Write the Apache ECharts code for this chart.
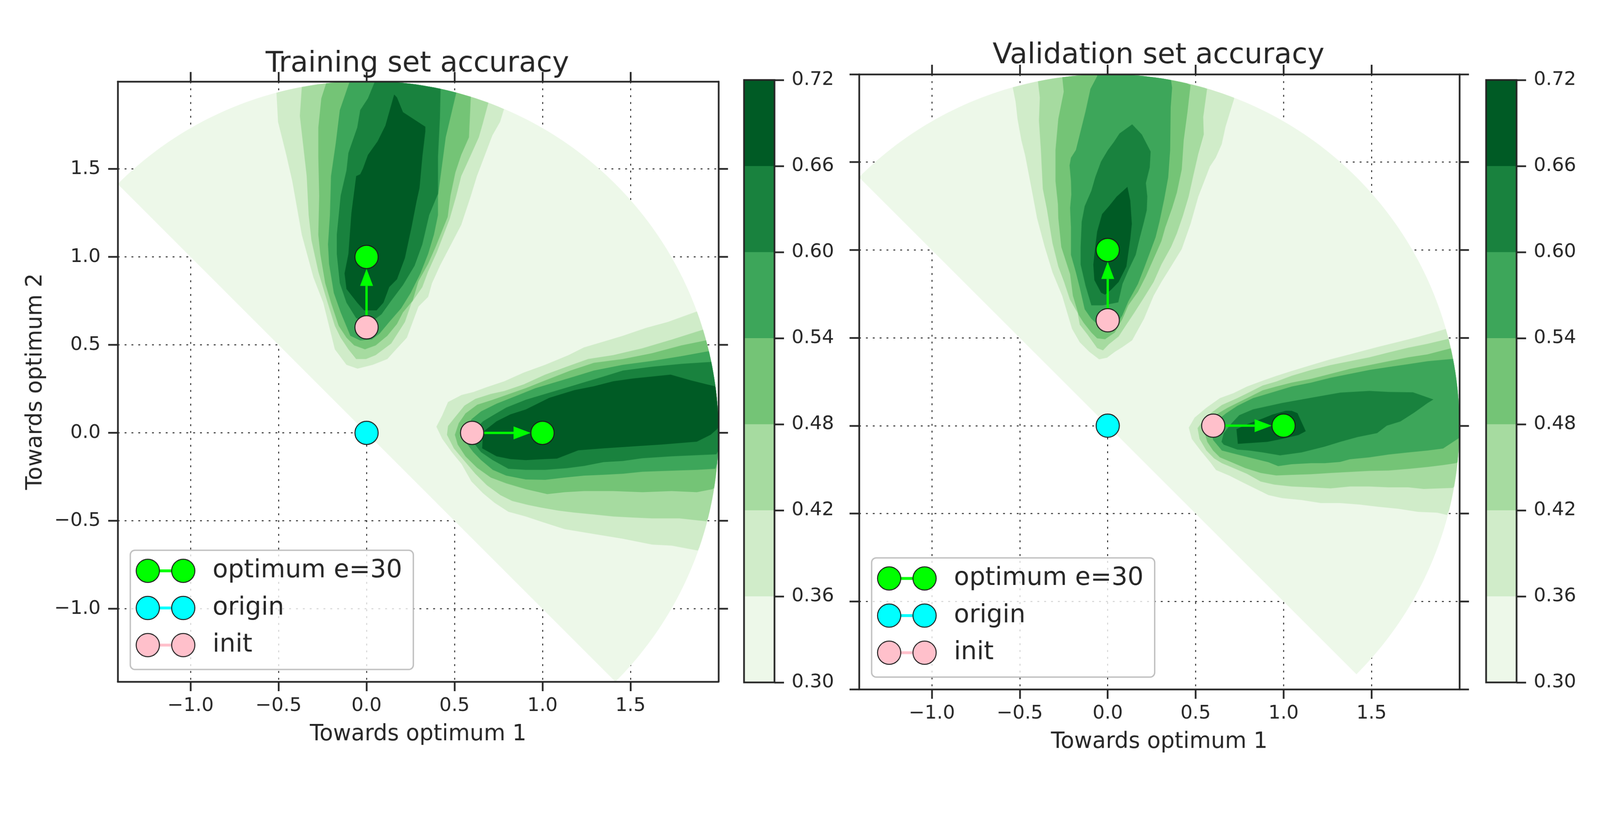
<!DOCTYPE html>
<html><head><meta charset="utf-8">
<script src="https://cdn.jsdelivr.net/npm/echarts@6.0.0/dist/echarts.min.js"></script>
<style>html,body{margin:0;padding:0;background:#fff;overflow:hidden}#chart{width:4200px;height:2100px;transform-origin:0 0}</style>
</head><body><div id="chart"></div>
<script>
// ---------------- data ----------------
const LEVELS = [0.30, 0.36, 0.42, 0.48, 0.54, 0.60, 0.66, 0.72];
const BAND_COLORS = ['#edf8e9', '#d0ecc9', '#a6dba0', '#74c476', '#3da65a', '#19823e', '#005b25'];
const X_TICKS = [-1.0, -0.5, 0.0, 0.5, 1.0, 1.5];
const Y_TICKS_TRAIN = [-1.0, -0.5, 0.0, 0.5, 1.0, 1.5];
const Y_TICKS_VAL = [-1.5, -1.0, -0.5, 0.0, 0.5, 1.0, 1.5, 2.0];
const CBAR_TICKS = [0.30, 0.36, 0.42, 0.48, 0.54, 0.60, 0.66, 0.72];
const TITLES = ['Training set accuracy', 'Validation set accuracy'];
const X_NAME = 'Towards optimum 1';
const Y_NAME = 'Towards optimum 2';
const SECTOR_RADIUS = 2.0;
const SECTOR_FROM_DEG = -45;
const SECTOR_TO_DEG = 135;

const SERIES_NAMES = ['optimum e=30', 'origin', 'init'];
const PT_OPTIMUM = [[0, 1], [1, 0]];
const PT_ORIGIN = [[0, 0]];
const PT_INIT = [[0, 0.6], [0.6, 0]];
const ARROWS = [[0, 0.6, 0, 1], [0.6, 0, 1, 0]];

// training accuracy contours (upper lobe / right lobe), boundaries at LEVELS[1..6]
const T_UP_1 = [[-0.512,1.934],[-0.503,1.768],[-0.456,1.580],[-0.423,1.436],[-0.368,1.127],[-0.302,0.884],[-0.246,0.740],[-0.180,0.475],[-0.114,0.387],[-0.051,0.365],[0.035,0.387],[0.118,0.420],[0.168,0.475],[0.229,0.541],[0.295,0.718],[0.350,0.773],[0.372,0.851],[0.417,0.950],[0.538,1.182],[0.593,1.348],[0.627,1.459],[0.715,1.691],[0.759,1.768],[0.781,1.840]];
const T_UP_2 = [[-0.368,1.967],[-0.379,1.801],[-0.340,1.459],[-0.329,1.238],[-0.313,1.094],[-0.274,0.917],[-0.235,0.785],[-0.180,0.608],[-0.147,0.541],[-0.103,0.475],[-0.059,0.420],[-0.003,0.420],[0.052,0.442],[0.140,0.508],[0.218,0.630],[0.256,0.740],[0.317,0.829],[0.350,0.917],[0.400,1.028],[0.472,1.215],[0.510,1.348],[0.538,1.459],[0.593,1.580],[0.638,1.680],[0.660,1.757],[0.693,1.878]];
const T_UP_3 = [[-0.230,1.989],[-0.257,1.901],[-0.274,1.735],[-0.274,1.569],[-0.269,1.348],[-0.274,1.127],[-0.263,1.017],[-0.235,0.851],[-0.202,0.740],[-0.158,0.608],[-0.114,0.541],[-0.070,0.497],[-0.009,0.475],[0.052,0.497],[0.118,0.552],[0.173,0.619],[0.207,0.685],[0.262,0.751],[0.295,0.862],[0.350,0.961],[0.394,1.061],[0.461,1.227],[0.477,1.348],[0.505,1.481],[0.538,1.580],[0.582,1.680],[0.593,1.912]];
const T_UP_4 = [[-0.097,1.994],[-0.152,1.834],[-0.175,1.646],[-0.202,1.459],[-0.208,1.238],[-0.219,1.072],[-0.213,0.961],[-0.186,0.796],[-0.147,0.685],[-0.092,0.552],[-0.036,0.525],[0.030,0.530],[0.074,0.564],[0.129,0.630],[0.196,0.707],[0.251,0.796],[0.306,0.906],[0.350,1.017],[0.383,1.127],[0.406,1.238],[0.406,1.348],[0.428,1.514],[0.450,1.680],[0.510,1.934]];
const T_UP_5 = [[0.046,1.994],[0.008,1.901],[-0.036,1.834],[-0.053,1.735],[-0.103,1.591],[-0.114,1.492],[-0.147,1.348],[-0.158,1.238],[-0.169,1.127],[-0.169,1.017],[-0.152,0.851],[-0.114,0.740],[-0.059,0.652],[-0.003,0.635],[0.041,0.641],[0.085,0.674],[0.140,0.751],[0.207,0.840],[0.273,0.950],[0.317,1.072],[0.356,1.238],[0.406,1.359],[0.406,1.569],[0.417,1.790],[0.422,1.961]];
const T_UP_6 = [[0.157,1.923],[0.173,1.906],[0.207,1.823],[0.334,1.740],[0.334,1.713],[0.317,1.569],[0.301,1.392],[0.284,1.315],[0.256,1.171],[0.218,0.994],[0.173,0.873],[0.129,0.829],[0.096,0.740],[0.057,0.696],[-0.014,0.696],[-0.053,0.740],[-0.114,0.818],[-0.125,0.906],[-0.103,1.017],[-0.086,1.249],[-0.059,1.459],[-0.036,1.470],[-0.020,1.503],[0.008,1.580],[0.063,1.657],[0.107,1.746],[0.135,1.845]];
const T_RT_1 = [[1.872,0.688],[1.712,0.630],[1.590,0.597],[1.457,0.552],[1.347,0.519],[1.236,0.486],[1.148,0.442],[1.015,0.387],[0.894,0.343],[0.783,0.293],[0.684,0.260],[0.607,0.232],[0.540,0.215],[0.463,0.175],[0.430,0.099],[0.397,0.035],[0.430,-0.033],[0.485,-0.110],[0.540,-0.177],[0.596,-0.276],[0.662,-0.343],[0.728,-0.398],[0.806,-0.448],[0.905,-0.475],[1.004,-0.508],[1.126,-0.547],[1.292,-0.575],[1.457,-0.602],[1.623,-0.635],[1.734,-0.641],[1.883,-0.669]];
const T_RT_2 = [[1.910,0.586],[1.734,0.530],[1.568,0.481],[1.402,0.442],[1.259,0.420],[1.137,0.376],[1.015,0.331],[0.894,0.276],[0.783,0.238],[0.706,0.221],[0.618,0.193],[0.557,0.155],[0.502,0.088],[0.463,0.039],[0.457,-0.011],[0.496,-0.088],[0.562,-0.166],[0.618,-0.232],[0.684,-0.298],[0.761,-0.354],[0.828,-0.387],[0.916,-0.409],[0.993,-0.425],[1.093,-0.442],[1.181,-0.453],[1.292,-0.464],[1.402,-0.475],[1.513,-0.481],[1.623,-0.486],[1.778,-0.486],[1.932,-0.503]];
const T_RT_3 = [[1.927,0.525],[1.789,0.497],[1.623,0.453],[1.457,0.420],[1.292,0.398],[1.159,0.354],[1.015,0.298],[0.905,0.254],[0.794,0.215],[0.717,0.188],[0.629,0.160],[0.562,0.110],[0.524,0.055],[0.502,-0.011],[0.518,-0.066],[0.562,-0.133],[0.629,-0.199],[0.706,-0.254],[0.794,-0.287],[0.905,-0.320],[1.027,-0.348],[1.126,-0.337],[1.236,-0.331],[1.402,-0.331],[1.568,-0.337],[1.734,-0.331],[1.877,-0.337],[1.966,-0.320]];
const T_RT_4 = [[1.944,0.464],[1.789,0.436],[1.623,0.409],[1.457,0.387],[1.292,0.354],[1.181,0.320],[1.071,0.287],[0.960,0.254],[0.850,0.210],[0.739,0.166],[0.651,0.122],[0.596,0.077],[0.557,-0.011],[0.557,-0.044],[0.607,-0.110],[0.651,-0.155],[0.717,-0.210],[0.794,-0.243],[0.905,-0.265],[1.015,-0.267],[1.126,-0.254],[1.236,-0.243],[1.347,-0.238],[1.457,-0.232],[1.568,-0.221],[1.734,-0.215],[1.877,-0.210],[1.982,-0.204]];
const T_RT_5 = [[1.955,0.403],[1.789,0.392],[1.623,0.376],[1.457,0.354],[1.347,0.320],[1.236,0.287],[1.126,0.254],[1.015,0.221],[0.905,0.188],[0.794,0.144],[0.717,0.099],[0.662,0.066],[0.607,0.011],[0.607,-0.055],[0.651,-0.110],[0.717,-0.155],[0.806,-0.204],[0.905,-0.210],[1.015,-0.210],[1.137,-0.201],[1.236,-0.188],[1.347,-0.166],[1.457,-0.160],[1.568,-0.144],[1.734,-0.133],[1.877,-0.127],[1.988,-0.122]];
const T_RT_6 = [[1.988,0.265],[1.933,0.276],[1.844,0.298],[1.728,0.331],[1.623,0.320],[1.513,0.309],[1.402,0.293],[1.292,0.265],[1.181,0.243],[1.038,0.199],[0.905,0.133],[0.817,0.105],[0.739,0.066],[0.662,0.006],[0.657,-0.088],[0.739,-0.133],[0.817,-0.149],[0.905,-0.155],[1.015,-0.149],[1.082,-0.146],[1.203,-0.099],[1.347,-0.088],[1.513,-0.077],[1.679,-0.066],[1.877,-0.050],[1.955,-0.011],[1.993,0.022]];

// validation accuracy contours
const V_UP_1 = [[-0.540,1.925],[-0.524,1.845],[-0.513,1.746],[-0.491,1.624],[-0.469,1.536],[-0.435,1.359],[-0.402,1.182],[-0.358,1.017],[-0.314,0.873],[-0.259,0.740],[-0.203,0.552],[-0.159,0.475],[-0.104,0.420],[-0.049,0.378],[-0.004,0.387],[0.040,0.420],[0.084,0.448],[0.139,0.486],[0.206,0.608],[0.261,0.740],[0.305,0.818],[0.360,0.906],[0.421,1.006],[0.471,1.149],[0.515,1.304],[0.581,1.475],[0.614,1.525],[0.648,1.602],[0.670,1.702],[0.719,1.862]];
const V_UP_2 = [[-0.397,1.961],[-0.386,1.867],[-0.391,1.735],[-0.380,1.569],[-0.369,1.348],[-0.347,1.238],[-0.314,1.039],[-0.281,0.906],[-0.248,0.818],[-0.215,0.718],[-0.171,0.641],[-0.159,0.575],[-0.115,0.519],[-0.060,0.442],[-0.027,0.429],[0.007,0.464],[0.062,0.508],[0.106,0.575],[0.150,0.641],[0.206,0.729],[0.261,0.818],[0.305,0.917],[0.360,1.017],[0.393,1.094],[0.427,1.193],[0.460,1.304],[0.487,1.425],[0.515,1.547],[0.546,1.657],[0.543,1.757],[0.565,1.917]];
const V_UP_3 = [[-0.259,1.987],[-0.250,1.901],[-0.281,1.746],[-0.297,1.569],[-0.297,1.392],[-0.283,1.260],[-0.281,1.182],[-0.264,1.017],[-0.214,0.862],[-0.198,0.740],[-0.165,0.630],[-0.137,0.586],[-0.093,0.530],[-0.060,0.497],[-0.015,0.492],[0.040,0.530],[0.084,0.608],[0.117,0.685],[0.172,0.762],[0.217,0.851],[0.261,0.950],[0.305,1.050],[0.327,1.127],[0.366,1.238],[0.393,1.326],[0.421,1.459],[0.432,1.624],[0.454,1.790],[0.471,1.939]];
const V_UP_4 = [[-0.060,1.989],[-0.098,1.917],[-0.126,1.790],[-0.159,1.657],[-0.181,1.569],[-0.209,1.525],[-0.217,1.481],[-0.209,1.392],[-0.207,1.315],[-0.214,1.238],[-0.209,1.127],[-0.209,0.972],[-0.181,0.873],[-0.159,0.785],[-0.131,0.663],[-0.093,0.608],[-0.049,0.569],[0.000,0.552],[0.051,0.575],[0.084,0.630],[0.117,0.707],[0.172,0.807],[0.206,0.895],[0.239,0.983],[0.272,1.072],[0.294,1.160],[0.322,1.293],[0.344,1.414],[0.355,1.569],[0.358,1.812],[0.366,1.923],[0.360,1.967]];
const V_UP_5 = [[0.139,1.715],[0.194,1.657],[0.244,1.560],[0.239,1.470],[0.217,1.381],[0.225,1.304],[0.222,1.227],[0.206,1.160],[0.183,1.072],[0.159,0.972],[0.117,0.884],[0.084,0.807],[0.060,0.702],[-0.027,0.685],[-0.093,0.685],[-0.126,0.796],[-0.154,0.917],[-0.154,1.017],[-0.148,1.160],[-0.131,1.249],[-0.093,1.337],[-0.071,1.414],[-0.038,1.503],[0.001,1.569],[0.034,1.613],[0.067,1.663]];
const V_UP_6 = [[0.112,1.359],[0.128,1.282],[0.137,1.149],[0.128,1.061],[0.106,0.906],[0.062,0.818],[0.018,0.773],[-0.015,0.746],[-0.038,0.757],[-0.076,0.829],[-0.082,0.917],[-0.071,1.017],[-0.060,1.105],[-0.032,1.204],[0.007,1.249],[0.051,1.304]];
const V_RT_1 = [[1.918,0.549],[1.863,0.533],[1.764,0.505],[1.653,0.477],[1.543,0.450],[1.377,0.406],[1.267,0.378],[1.157,0.345],[1.046,0.311],[0.958,0.283],[0.881,0.256],[0.792,0.223],[0.715,0.185],[0.638,0.157],[0.561,0.102],[0.494,0.046],[0.461,-0.011],[0.478,-0.075],[0.528,-0.141],[0.583,-0.208],[0.616,-0.252],[0.693,-0.285],[0.770,-0.324],[0.848,-0.362],[0.914,-0.395],[0.991,-0.412],[1.102,-0.423],[1.212,-0.440],[1.322,-0.440],[1.433,-0.449],[1.543,-0.462],[1.653,-0.473],[1.764,-0.490],[1.874,-0.495],[1.929,-0.508]];
const V_RT_2 = [[1.935,0.494],[1.819,0.466],[1.709,0.444],[1.598,0.417],[1.488,0.389],[1.377,0.367],[1.267,0.345],[1.157,0.317],[1.046,0.284],[0.958,0.251],[0.881,0.229],[0.804,0.190],[0.737,0.157],[0.649,0.118],[0.583,0.069],[0.539,0.024],[0.511,-0.014],[0.522,-0.075],[0.561,-0.141],[0.605,-0.186],[0.649,-0.213],[0.715,-0.241],[0.792,-0.274],[0.870,-0.318],[0.947,-0.335],[1.046,-0.346],[1.157,-0.351],[1.267,-0.357],[1.377,-0.346],[1.488,-0.346],[1.598,-0.351],[1.709,-0.351],[1.797,-0.360],[1.962,-0.354]];
const V_RT_3 = [[1.946,0.439],[1.819,0.406],[1.709,0.389],[1.598,0.367],[1.488,0.345],[1.377,0.323],[1.267,0.295],[1.157,0.267],[1.046,0.245],[0.958,0.223],[0.881,0.201],[0.815,0.168],[0.748,0.135],[0.682,0.102],[0.616,0.063],[0.566,0.024],[0.549,-0.031],[0.566,-0.092],[0.599,-0.141],[0.638,-0.180],[0.704,-0.208],[0.781,-0.241],[0.870,-0.269],[0.958,-0.283],[1.046,-0.280],[1.157,-0.276],[1.267,-0.269],[1.377,-0.263],[1.488,-0.257],[1.598,-0.255],[1.709,-0.246],[1.819,-0.235],[1.907,-0.224],[1.979,-0.213]];
const V_RT_4 = [[1.960,0.380],[1.819,0.367],[1.709,0.350],[1.598,0.334],[1.488,0.317],[1.377,0.295],[1.267,0.273],[1.157,0.245],[1.046,0.223],[0.936,0.190],[0.826,0.157],[0.737,0.113],[0.671,0.069],[0.616,0.024],[0.594,-0.042],[0.599,-0.081],[0.649,-0.141],[0.737,-0.164],[0.826,-0.186],[0.914,-0.208],[0.969,-0.230],[1.046,-0.219],[1.157,-0.213],[1.234,-0.213],[1.322,-0.206],[1.377,-0.191],[1.488,-0.180],[1.598,-0.164],[1.709,-0.152],[1.819,-0.141],[1.907,-0.130],[1.990,-0.075]];
const V_RT_5 = [[1.852,0.149],[1.736,0.190],[1.598,0.192],[1.488,0.198],[1.322,0.188],[1.157,0.159],[0.991,0.129],[0.826,0.093],[0.748,0.060],[0.704,0.013],[0.660,-0.042],[0.647,-0.092],[0.660,-0.108],[0.737,-0.136],[0.804,-0.141],[0.881,-0.152],[0.980,-0.169],[1.102,-0.152],[1.234,-0.119],[1.322,-0.092],[1.422,-0.064],[1.532,-0.042],[1.587,0.000],[1.664,0.024],[1.742,0.074],[1.819,0.129]];
const V_RT_6 = [[0.732,-0.020],[0.740,-0.103],[0.908,-0.092],[0.991,-0.075],[1.085,-0.053],[1.126,-0.031],[1.079,0.071],[1.046,0.085],[1.013,0.085],[0.936,0.063],[0.881,0.041],[0.792,0.008]];

const TRAIN_CONTOURS = [[T_UP_1, T_RT_1], [T_UP_2, T_RT_2], [T_UP_3, T_RT_3], [T_UP_4, T_RT_4], [T_UP_5, T_RT_5], [T_UP_6, T_RT_6]];
const VAL_CONTOURS = [[V_UP_1, V_RT_1], [V_UP_2, V_RT_2], [V_UP_3, V_RT_3], [V_UP_4, V_RT_4], [V_UP_5, V_RT_5], [V_UP_6, V_RT_6]];

// ---------------- styles / layout ----------------
const INK = '#262626';
const FONT = 'DejaVu Sans';
const MARKER_COLORS = ['#00ff00', '#00ffff', '#ffc0cb'];
const ARROW_COLOR = '#00ff00';
const PLOTS = [
  { grid: { left: 309, top: 214, width: 1577, height: 1576 }, cbar: { left: 1953, top: 210, width: 80, height: 1582 },
    xMin: -1.414, xMax: 2.0, yMin: -1.414, yMax: 1.997, yTicks: Y_TICKS_TRAIN, yLabels: true, contours: TRAIN_CONTOURS, titleY: 169 },
  { grid: { left: 2255, top: 195, width: 1576, height: 1615 }, cbar: { left: 3901, top: 210, width: 80, height: 1582 },
    xMin: -1.414, xMax: 2.0, yMin: -1.5, yMax: 2.0, yTicks: Y_TICKS_VAL, yLabels: false, contours: VAL_CONTOURS, titleY: 147 }
];

// ---------------- helpers ----------------
const deg = Math.PI / 180;
function arcPt(a) { return [SECTOR_RADIUS * Math.cos(a * deg), SECTOR_RADIUS * Math.sin(a * deg)]; }
function clampPt(p) {
  const r = Math.hypot(p[0], p[1]);
  return r > SECTOR_RADIUS ? [p[0] * SECTOR_RADIUS / r, p[1] * SECTOR_RADIUS / r] : p;
}
function ringFor(pts) {
  const ring = pts.map(clampPt);
  const f = pts[0], l = pts[pts.length - 1];
  if (Math.hypot(f[0], f[1]) > 1.95 && Math.hypot(l[0], l[1]) > 1.95) {
    const aEnd = Math.atan2(l[1], l[0]) / deg;
    let aStart = Math.atan2(f[1], f[0]) / deg;
    if (aStart < aEnd) aStart += 360;
    for (let a = Math.ceil(aEnd); a < aStart; a += 1) ring.push(arcPt(a));
    ring.push(arcPt(aStart));
  }
  return ring;
}
function sectorRing() {
  const ring = [];
  for (let a = SECTOR_FROM_DEG; a <= SECTOR_TO_DEG; a += 1) ring.push(arcPt(a));
  return ring;
}
function fmtTick(v) { return (v < 0 ? '\u2212' : '') + Math.abs(v).toFixed(1); }

const textStyle = (size) => ({ fontSize: size, fontFamily: FONT, color: INK });
const lineSt = { color: INK, width: 4.5 };

const grids = [], xAxes = [], yAxes = [], series = [], graphics = [];

PLOTS.forEach((P, p) => {
  const gi = p, ci = 2 + p;
  grids[gi] = Object.assign({ containLabel: false, outerBoundsMode: 'none' }, P.grid);
  grids[ci] = Object.assign({ containLabel: false, outerBoundsMode: 'none' }, P.cbar);
  const base = p * 3;
  xAxes[base] = {
    gridIndex: gi, type: 'value', min: P.xMin, max: P.xMax, position: 'bottom', z: 5,
    axisLine: { show: true, onZero: false, lineStyle: lineSt },
    axisTick: { show: true, inside: false, length: 25, lineStyle: lineSt, customValues: X_TICKS },
    axisLabel: { show: true, customValues: X_TICKS, formatter: fmtTick, margin: 39, ...textStyle(50) },
    splitLine: { show: false },
    name: X_NAME, nameLocation: 'middle', nameGap: 110, nameTextStyle: textStyle(58)
  };
  xAxes[base + 1] = {
    gridIndex: gi, type: 'value', min: P.xMin, max: P.xMax, position: 'top', z: 5,
    axisLine: { show: true, onZero: false, lineStyle: lineSt },
    axisTick: { show: true, inside: false, length: 25, lineStyle: lineSt, customValues: X_TICKS },
    axisLabel: { show: false }, splitLine: { show: false }
  };
  xAxes[base + 2] = {
    gridIndex: gi, type: 'value', min: P.xMin, max: P.xMax, position: 'bottom', z: 0,
    axisLine: { show: false, onZero: false }, axisTick: { show: false, customValues: X_TICKS }, axisLabel: { show: false },
    splitLine: { show: true, lineStyle: { color: INK, width: 2.5, type: [5, 13] } }
  };
  yAxes[base] = {
    gridIndex: gi, type: 'value', min: P.yMin, max: P.yMax, position: 'left', z: 5,
    axisLine: { show: true, onZero: false, lineStyle: lineSt },
    axisTick: { show: true, inside: false, length: 25, lineStyle: lineSt, customValues: P.yTicks },
    axisLabel: { show: P.yLabels, customValues: P.yTicks, formatter: fmtTick, margin: 45, ...textStyle(50) },
    splitLine: { show: false },
    name: P.yLabels ? Y_NAME : '', nameLocation: 'middle', nameGap: 186, nameTextStyle: textStyle(58)
  };
  yAxes[base + 1] = {
    gridIndex: gi, type: 'value', min: P.yMin, max: P.yMax, position: 'right', z: 5,
    axisLine: { show: true, onZero: false, lineStyle: lineSt },
    axisTick: { show: true, inside: false, length: 25, lineStyle: lineSt, customValues: P.yTicks },
    axisLabel: { show: false }, splitLine: { show: false }
  };
  yAxes[base + 2] = {
    gridIndex: gi, type: 'value', min: P.yMin, max: P.yMax, position: 'left', z: 0,
    axisLine: { show: false, onZero: false }, axisTick: { show: false, customValues: P.yTicks }, axisLabel: { show: false },
    splitLine: { show: true, lineStyle: { color: INK, width: 2.5, type: [5, 13] } }
  };
  xAxes[6 + p] = { gridIndex: ci, type: 'value', min: 0, max: 1, show: false };
  yAxes[6 + p] = {
    gridIndex: ci, type: 'value', min: LEVELS[0], max: LEVELS[LEVELS.length - 1], position: 'right', z: 5,
    axisLine: { show: false, onZero: false },
    axisTick: { show: true, inside: false, length: 25, lineStyle: lineSt, customValues: CBAR_TICKS },
    axisLabel: { show: true, customValues: CBAR_TICKS, formatter: (v) => v.toFixed(2), margin: 45, ...textStyle(50) },
    splitLine: { show: false }
  };

  const polys = [{ band: 0, ring: sectorRing() }];
  P.contours.forEach((lobes, k) => lobes.forEach((pts) => polys.push({ band: k + 1, ring: ringFor(pts) })));
  series.push({
    type: 'custom', name: 'accuracy', coordinateSystem: 'cartesian2d', xAxisIndex: base, yAxisIndex: base,
    clip: true, silent: true, z: 1,
    data: polys.map((q, i) => [0, 0, i]),
    renderItem: (params, api) => {
      const q = polys[api.value(2)];
      return { type: 'polygon', shape: { points: q.ring.map((pt) => api.coord(pt)) }, style: { fill: BAND_COLORS[q.band] } };
    }
  });
  series.push({
    type: 'custom', name: 'arrows', coordinateSystem: 'cartesian2d', xAxisIndex: base, yAxisIndex: base,
    silent: true, z: 3,
    data: ARROWS.map((a, i) => [a[0], a[1], i]),
    renderItem: (params, api) => {
      const a = ARROWS[api.value(2)];
      const p0 = api.coord([a[0], a[1]]), p1 = api.coord([a[2], a[3]]);
      const dx = p1[0] - p0[0], dy = p1[1] - p0[1], L = Math.hypot(dx, dy);
      const ux = dx / L, uy = dy / L, nx = -uy, ny = ux;
      const rad = 31, headL = 45, headW = 17;
      const s = [p0[0] + ux * rad, p0[1] + uy * rad];
      const tip = [p1[0] - ux * rad, p1[1] - uy * rad];
      const b = [tip[0] - ux * headL, tip[1] - uy * headL];
      return { type: 'group', children: [
        { type: 'line', shape: { x1: s[0], y1: s[1], x2: b[0], y2: b[1] }, style: { stroke: ARROW_COLOR, lineWidth: 6 } },
        { type: 'polygon', shape: { points: [tip, [b[0] + nx * headW, b[1] + ny * headW], [b[0] - nx * headW, b[1] - ny * headW]] }, style: { fill: ARROW_COLOR } }
      ] };
    }
  });
  [PT_OPTIMUM, PT_ORIGIN, PT_INIT].forEach((pts, k) => {
    series.push({
      type: 'scatter', name: SERIES_NAMES[k], xAxisIndex: base, yAxisIndex: base, data: pts,
      symbol: 'circle', symbolSize: 61, silent: true, z: 4,
      itemStyle: { color: MARKER_COLORS[k], borderColor: '#1a1a1a', borderWidth: 2.5, opacity: 1 }
    });
  });
  series.push({
    type: 'custom', name: 'colorbar', coordinateSystem: 'cartesian2d', xAxisIndex: 6 + p, yAxisIndex: 6 + p,
    silent: true, z: 2,
    data: BAND_COLORS.map((c, i) => [0.5, (LEVELS[i] + LEVELS[i + 1]) / 2, i]),
    renderItem: (params, api) => {
      const i = api.value(2);
      const a = api.coord([0, LEVELS[i + 1]]), b = api.coord([1, LEVELS[i]]);
      return { type: 'rect', shape: { x: a[0], y: a[1], width: b[0] - a[0], height: b[1] - a[1] }, style: { fill: BAND_COLORS[i] } };
    }
  });
  series.push({
    type: 'custom', name: 'colorbar-frame', coordinateSystem: 'cartesian2d', xAxisIndex: 6 + p, yAxisIndex: 6 + p,
    silent: true, z: 6,
    data: [[0.5, LEVELS[3]]],
    renderItem: (params, api) => {
      const a = api.coord([0, LEVELS[LEVELS.length - 1]]), b = api.coord([1, LEVELS[0]]);
      return { type: 'rect', shape: { x: a[0], y: a[1], width: b[0] - a[0], height: b[1] - a[1] }, style: { fill: null, stroke: INK, lineWidth: 4.5 } };
    }
  });

  graphics.push({ type: 'text', x: P.grid.left + P.grid.width / 2 - 2, y: P.titleY, z: 100,
    style: { text: TITLES[p], fontSize: 75, fontFamily: FONT, fill: INK, align: 'center', verticalAlign: 'middle' } });

  const lx = P.grid.left + 33, ly = P.grid.top + P.grid.height - 32 - 313;
  graphics.push({ type: 'rect', z: 100, shape: { x: lx, y: ly, width: 743, height: 313, r: 12 },
    style: { fill: 'rgba(255,255,255,0.8)', stroke: '#bfbfbf', lineWidth: 3.5 } });
  SERIES_NAMES.forEach((nm, k) => {
    const cy = ly + 54 + k * 97.5;
    graphics.push({ type: 'line', z: 101, shape: { x1: lx + 46, y1: cy, x2: lx + 139, y2: cy }, style: { stroke: MARKER_COLORS[k], lineWidth: 7.5 } });
    [lx + 46, lx + 139].forEach((cx) => graphics.push({ type: 'circle', z: 102, shape: { cx: cx, cy: cy, r: 30.5 },
      style: { fill: MARKER_COLORS[k], stroke: '#1a1a1a', lineWidth: 2.5 } }));
    graphics.push({ type: 'text', z: 103, x: lx + 216, y: cy,
      style: { text: nm, fontSize: 66, fontFamily: FONT, fill: INK, align: 'left', verticalAlign: 'middle' } });
  });
});

// fit the 4200x2100 drawing into the actual viewport
const el = document.getElementById('chart');
const vw = window.innerWidth || 4200, vh = window.innerHeight || 2100;
const fit = Math.min(vw / 4200, vh / 2100);
if (fit < 0.999) el.style.transform = 'scale(' + fit + ')';
const dpr = Math.max(window.devicePixelRatio || 1, 1);
const chart = echarts.init(el, null, { renderer: 'canvas', width: 4200, height: 2100, devicePixelRatio: dpr });
chart.setOption({
  backgroundColor: '#ffffff',
  animation: false,
  grid: grids,
  xAxis: xAxes,
  yAxis: yAxes,
  series: series,
  graphic: { elements: graphics }
});
</script>
</body></html>
